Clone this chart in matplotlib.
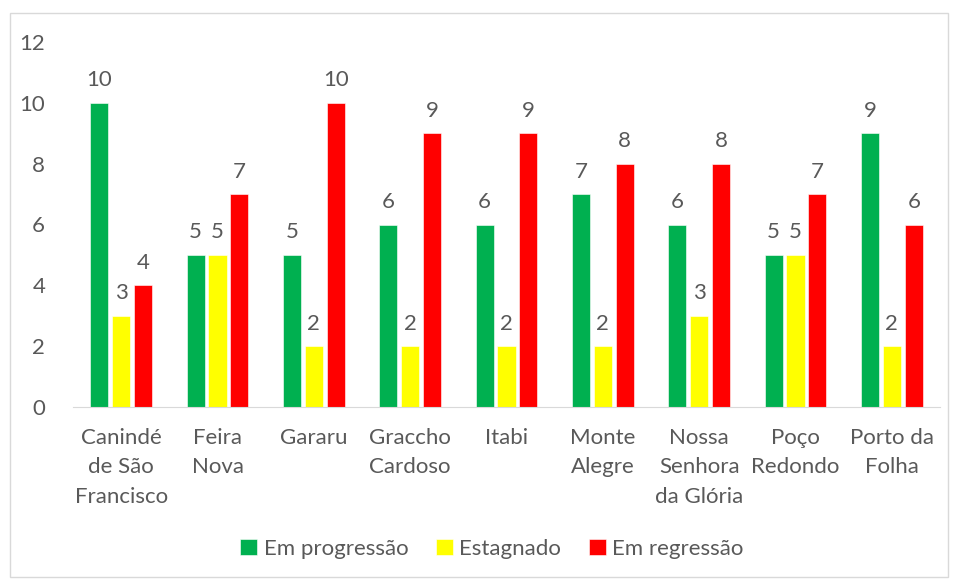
import numpy as np
import matplotlib
matplotlib.use("Agg")
import matplotlib.pyplot as plt
from matplotlib.patches import Rectangle

municipios = ["Canindé\nde São\nFrancisco", "Feira\nNova", "Gararu", "Graccho\nCardoso",
              "Itabi", "Monte\nAlegre", "Nossa\nSenhora\nda Glória", "Poço\nRedondo", "Porto da\nFolha"]
progressao = [10, 5, 5, 6, 6, 7, 6, 5, 9]
estagnado = [3, 5, 2, 2, 2, 2, 3, 5, 2]
regressao = [4, 7, 10, 9, 9, 8, 8, 7, 6]

series = [("Em progressão", progressao, "#00B050"),
          ("Estagnado", estagnado, "#FFFF00"),
          ("Em regressão", regressao, "#FF0000")]

txt = "#595959"
plt.rcParams['font.family'] = ['Lato', 'DejaVu Sans']
plt.rcParams['font.size'] = 16

fig = plt.figure(figsize=(9.54, 5.81), dpi=100)
fig.patches.append(Rectangle((10/954, 1-577/581), 938/954, 564/581, transform=fig.transFigure,
                             fill=False, edgecolor="#D9D9D9", linewidth=1))
ax = fig.add_axes([73/954, 1-407/581, 867/954, 365/581])

x = np.arange(len(municipios))
w = 0.187
step = 0.228
for i, (nome, vals, cor) in enumerate(series):
    bars = ax.bar(x + (i-1)*step, vals, w, color=cor, edgecolor="white", linewidth=0.4, label=nome)
    for b, v in zip(bars, vals):
        ax.annotate(str(v), (b.get_x()+b.get_width()/2, v), xytext=(0, 9), textcoords="offset points",
                    ha="center", va="bottom", color=txt, fontsize=16)

ax.set_xlim(-0.5, len(municipios)-0.5)
ax.set_ylim(0, 12)
ax.set_yticks(range(0, 13, 2))
ax.set_xticks(x)
ax.set_xticklabels(municipios, linespacing=1.6)
for s in ["top", "right", "left"]:
    ax.spines[s].set_visible(False)
ax.spines["bottom"].set_color("#D9D9D9")
ax.tick_params(axis="both", length=0, colors=txt, labelsize=16)
ax.tick_params(axis="y", pad=20)
ax.tick_params(axis="x", pad=15)

fig.legend(loc="center", bbox_to_anchor=(492/954, 1-549/581), ncol=3, frameon=False,
           handlelength=0.75, handleheight=0.75, handletextpad=0.3, columnspacing=1.25,
           labelcolor=txt, fontsize=16)

fig.savefig("out.png", dpi=100)
